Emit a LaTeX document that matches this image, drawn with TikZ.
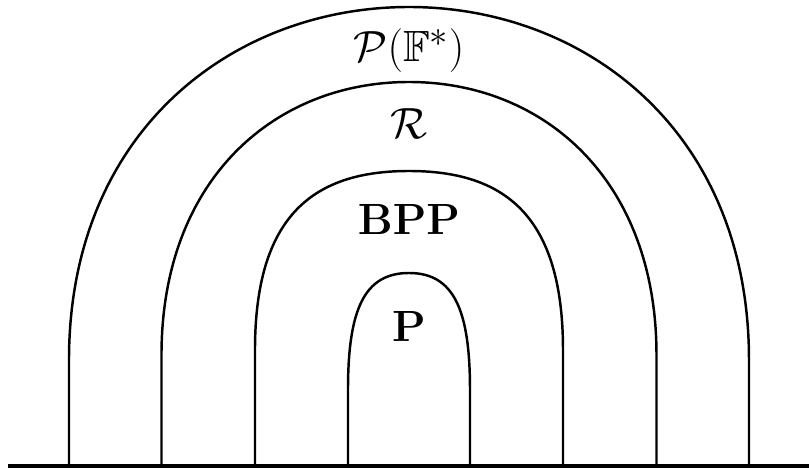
\documentclass[tikz,border=0pt]{standalone}
\usepackage{amsmath,amssymb}
\usepackage{tikz}
\usetikzlibrary{positioning}

\begin{document}
\begin{tikzpicture}[arch/.style={line width=1.4pt},
    lbl/.style={font=\Huge}]
    \useasboundingbox (-8.18,-0.06) rectangle (8.0,9.32);
    % ground line
    \draw[line width=2.1pt] (-8.02,0) -- (8.0,0);
    % nested classes: half width / start of bend / top / control lengths
    \foreach \w/\y/\t/\k/\kk in {6.8/2.12/9.18/4.6/3.5,4.95/2.22/7.68/3.5/2.7,
      3.08/2.32/5.9/2.7/1.9,1.22/1.52/3.86/1.6/0.9} {
      \draw[arch] (-\w,0) -- (-\w,\y) .. controls +(0,\k) and +(-\kk,0) .. (0,\t)
        .. controls +(\kk,0) and +(0,\k) .. (\w,\y) -- (\w,0);
    }
    \node[lbl] (pf) at (0,8.3) {$\mathcal{P}(\mathbb{F}^*)$};
    \node[lbl] (rr) at (0,6.84) {$\mathcal{R}$};
    \node[lbl] (bpp) at (0,4.92) {$\mathbf{BPP}$};
    \node[lbl] (pp) at (0,2.78) {$\mathbf{P}$};
\end{tikzpicture}
\end{document}
